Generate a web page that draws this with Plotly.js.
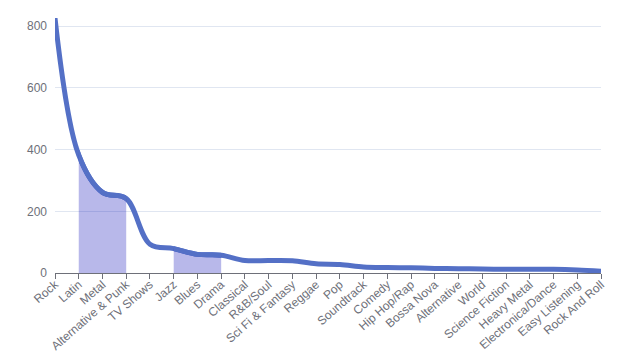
<!DOCTYPE html>
<html>
<head>
<meta charset="utf-8">
<script src="https://cdn.plot.ly/plotly-3.0.1.min.js"></script>
<style>html,body{margin:0;padding:0;background:#fff;}#chart{width:633px;height:352px;}</style>
</head>
<body>
<div id="chart"></div>
<script>
var genres = ["Rock","Latin","Metal","Alternative & Punk","TV Shows","Jazz","Blues","Drama","Classical","R&B/Soul","Sci Fi & Fantasy","Reggae","Pop","Soundtrack","Comedy","Hip Hop/Rap","Bossa Nova","Alternative","World","Science Fiction","Heavy Metal","Electronica/Dance","Easy Listening","Rock And Roll"];
var revenue = [826.65,382.14,261.36,241.56,93.53,79.20,60.39,57.71,40.59,40.59,39.80,29.70,27.72,19.80,17.91,16.83,14.85,13.86,12.87,11.94,11.88,11.88,9.90,5.94];
var highlightStart = [1, 5];
var highlightEnd = [3, 7];
var yTicks = [0, 200, 400, 600, 800];

var n = genres.length;
var ymax = Math.max.apply(null, revenue);
var lineColor = '#5470c6';
var fillColor = 'rgba(0,0,180,0.28)';
var font = {family: '"Liberation Sans", Arial, sans-serif', size: 12, color: '#6e7079'};
var lineStyle = {width: 5, color: lineColor, shape: 'spline', smoothing: 1};

var traces = [{
  x: genres, y: revenue, xaxis: 'x', yaxis: 'y',
  type: 'scatter', mode: 'lines', line: lineStyle
}];
var layout = {
  width: 633, height: 352,
  margin: {l: 55, r: 32, t: 18, b: 79, pad: 0},
  paper_bgcolor: '#fff',
  plot_bgcolor: 'rgba(0,0,0,0)',
  showlegend: false,
  font: font,
  xaxis: {
    type: 'category', range: [0, n - 1], domain: [0, 1],
    categoryorder: 'array', categoryarray: genres,
    showline: true, linecolor: '#6e7079', linewidth: 1,
    ticks: 'outside', ticklen: 5, tickcolor: '#6e7079', tickwidth: 1,
    tickangle: -41, showgrid: false, zeroline: false,
    tickfont: font, anchor: 'y', ticklabelstandoff: -6
  },
  yaxis: {
    range: [0, ymax], tickvals: yTicks, ticktext: yTicks.map(String),
    showline: false, ticks: '', showgrid: true, gridcolor: '#e0e6f1', gridwidth: 1,
    zeroline: false, tickfont: font, ticklabelstandoff: 7, anchor: 'x'
  }
};

for (var k = 0; k < highlightStart.length; k++) {
  var a = highlightStart[k], b = highlightEnd[k];
  var xa = 'x' + (k + 2);
  layout['xaxis' + (k + 2)] = {
    type: 'category', domain: [a / (n - 1), b / (n - 1)], range: [a, b],
    categoryorder: 'array', categoryarray: genres,
    visible: false, anchor: 'y', showgrid: false, zeroline: false
  };
  traces.push({
    x: genres, y: revenue, xaxis: xa, yaxis: 'y',
    type: 'scatter', mode: 'lines', fill: 'tozeroy', fillcolor: fillColor,
    line: {width: 0, shape: 'spline', smoothing: 1, color: fillColor},
    hoverinfo: 'skip'
  });
  traces.push({
    x: genres, y: revenue, xaxis: xa, yaxis: 'y',
    type: 'scatter', mode: 'lines', line: lineStyle, hoverinfo: 'skip'
  });
}

Plotly.newPlot('chart', traces, layout, {displayModeBar: false, staticPlot: true});
</script>
</body>
</html>
